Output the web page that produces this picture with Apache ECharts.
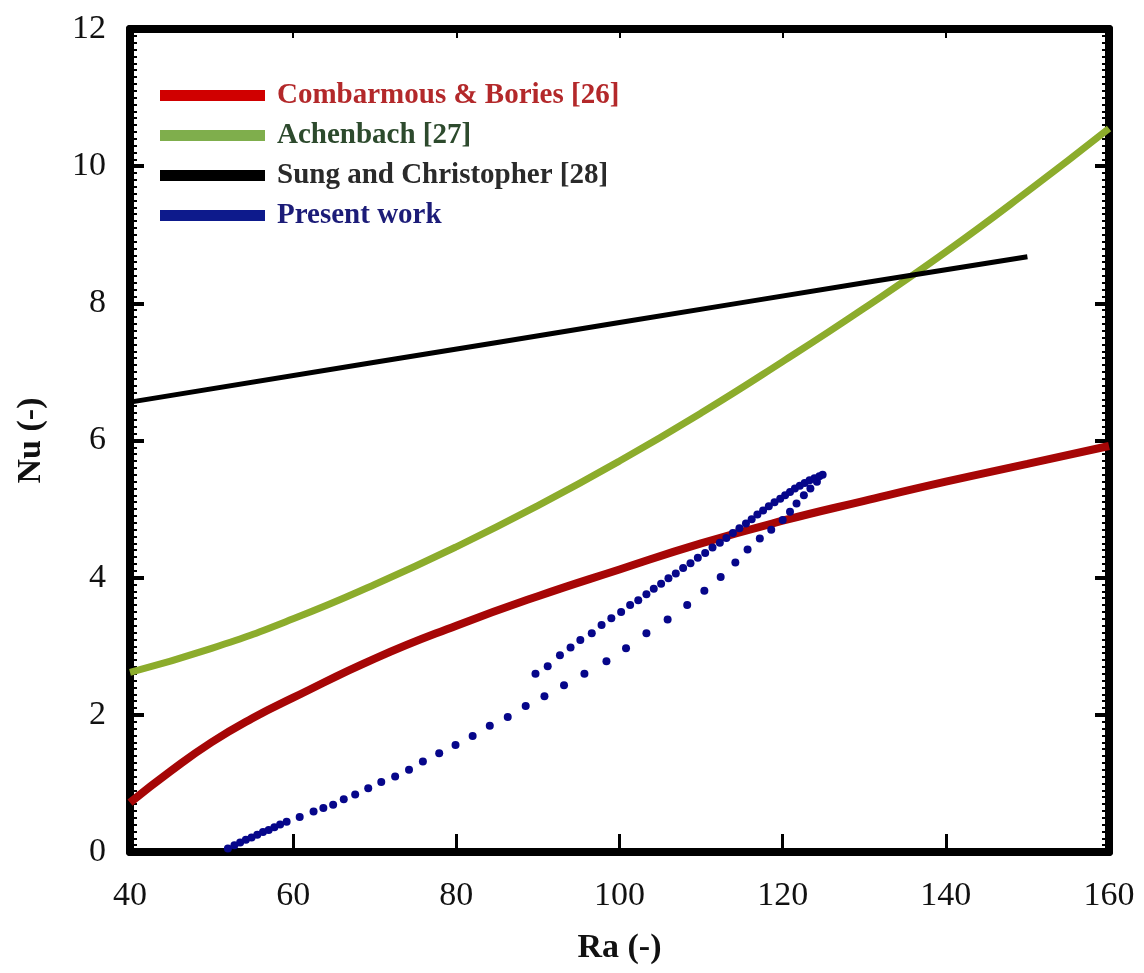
<!DOCTYPE html>
<html>
<head>
<meta charset="utf-8">
<script src="https://cdn.jsdelivr.net/npm/echarts@6/dist/echarts.min.js"></script>
<style>
  html, body { margin: 0; padding: 0; background: #fff; }
  #chart { width: 1144px; height: 973px; }
</style>
</head>
<body>
<div id="chart"></div>
<script>
// Ra (-) vs Nu (-) values
const combarmousData = [
  [40, 0.72], [45, 1.18], [50, 1.6], [55, 1.95], [60, 2.25], [70, 2.82], [80, 3.3],
  [90, 3.73], [100, 4.12], [110, 4.5], [120, 4.83], [130, 5.12], [140, 5.4],
  [150, 5.66], [160, 5.92]
]
const achenbachData = [
  [40, 2.62], [50, 2.97], [60, 3.4], [70, 3.9], [80, 4.45], [90, 5.05], [100, 5.7],
  [110, 6.4], [120, 7.15], [130, 7.93], [140, 8.75], [150, 9.63], [160, 10.55]
]
const sungData = [
  [40, 6.56], [70, 7.14], [100, 7.72], [130, 8.3], [150, 8.68]
]
const presentLower = [
  [52.0, 0.05], [52.8, 0.1], [53.5, 0.14], [54.2, 0.18], [54.9, 0.21], [55.6, 0.25],
  [56.3, 0.29], [57.0, 0.32], [57.7, 0.36], [58.4, 0.4], [59.2, 0.44], [60.8, 0.51],
  [62.5, 0.59], [63.7, 0.64], [64.9, 0.69], [66.2, 0.77], [67.6, 0.84], [69.2, 0.93],
  [70.8, 1.02], [72.5, 1.1], [74.2, 1.2], [75.9, 1.32], [77.9, 1.44], [79.9, 1.56],
  [82.0, 1.69], [84.1, 1.84], [86.3, 1.97], [88.5, 2.13], [90.8, 2.27], [93.2, 2.43],
  [95.7, 2.6], [98.4, 2.78], [100.8, 2.97], [103.3, 3.19], [105.9, 3.39], [108.3, 3.6],
  [110.4, 3.81], [112.4, 4.01], [114.2, 4.22], [115.7, 4.41], [117.2, 4.57], [118.6, 4.7],
  [120.0, 4.84], [120.9, 4.96], [121.7, 5.08], [122.6, 5.2], [123.4, 5.3], [124.2, 5.4]
]
const presentUpper = [
  [89.7, 2.6], [91.2, 2.71], [92.7, 2.87], [94.0, 2.98], [95.2, 3.09], [96.6, 3.19],
  [97.8, 3.31], [99.0, 3.41], [100.2, 3.5], [101.3, 3.6], [102.3, 3.67], [103.3, 3.76],
  [104.2, 3.84], [105.1, 3.91], [106.0, 3.99], [106.9, 4.06], [107.8, 4.14], [108.7, 4.21],
  [109.6, 4.29], [110.5, 4.36], [111.4, 4.44], [112.3, 4.51], [113.1, 4.58], [113.9, 4.65],
  [114.7, 4.72], [115.5, 4.79], [116.2, 4.85], [116.9, 4.92], [117.6, 4.98], [118.3, 5.04],
  [119.0, 5.1], [119.7, 5.15], [120.3, 5.2], [120.9, 5.25], [121.5, 5.3], [122.1, 5.34],
  [122.7, 5.38], [123.3, 5.42], [123.9, 5.45], [124.5, 5.48], [124.9, 5.5]
]
const seriesNames = ['Combarmous & Bories [26]', 'Achenbach [27]', 'Sung and Christopher [28]', 'Present work']

const chart = echarts.init(document.getElementById('chart'))
const serif = '"Liberation Serif", "DejaVu Serif", serif'

const option = {
  backgroundColor: '#fff',
  animation: false,
  grid: { left: 130, right: 35, top: 29, bottom: 121, containLabel: false, outerBoundsMode: 'none' },
  legend: {
    orient: 'vertical',
    left: 160,
    top: 81,
    padding: 0,
    itemWidth: 105,
    itemHeight: 11,
    itemGap: 11,
    icon: 'rect',
    textStyle: {
      fontFamily: serif,
      fontWeight: 'bold',
      fontSize: 29,
      lineHeight: 29,
      padding: [0, 0, 0, 7]
    },
    data: [
      { name: seriesNames[0], itemStyle: { color: '#d00000', opacity: 1 }, textStyle: { color: '#b3282a' } },
      { name: seriesNames[1], itemStyle: { color: '#7fae4c', opacity: 1 }, textStyle: { color: '#2d4a2d' } },
      { name: seriesNames[2], itemStyle: { color: '#000', opacity: 1 }, textStyle: { color: '#2a2a2a' } },
      { name: seriesNames[3], itemStyle: { color: '#0d1a8c', opacity: 1 }, textStyle: { color: '#1c1c78' } }
    ]
  },
  xAxis: [{
    type: 'value',
    min: 40, max: 160, interval: 20,
    name: 'Ra (-)',
    nameLocation: 'middle',
    nameGap: 79,
    nameTextStyle: { fontFamily: serif, fontWeight: 'bold', fontSize: 34, color: '#111' },
    axisLine: { show: true, onZero: false, lineStyle: { color: '#000', width: 8 } },
    axisTick: { show: true, inside: true, length: 18, lineStyle: { color: '#000', width: 3 } },
    axisLabel: { margin: 27, fontFamily: serif, fontSize: 34, color: '#111',
      showMinLabel: true, showMaxLabel: true },
    splitLine: { show: false }
  }, {
    type: 'value',
    position: 'top',
    min: 40, max: 160, interval: 20,
    axisLine: { show: true, onZero: false, lineStyle: { color: '#000', width: 8 } },
    axisTick: { show: true, inside: true, length: 9, lineStyle: { color: '#000', width: 2 } },
    axisLabel: { show: false },
    splitLine: { show: false }
  }],
  yAxis: [{
    type: 'value',
    min: 0, max: 12, interval: 2,
    name: 'Nu (-)',
    nameLocation: 'middle',
    nameRotate: 90,
    nameGap: 82,
    nameTextStyle: { fontFamily: serif, fontWeight: 'bold', fontSize: 34, color: '#111' },
    axisLine: { show: true, onZero: false, lineStyle: { color: '#000', width: 8 } },
    axisTick: { show: true, inside: true, length: 14, lineStyle: { color: '#000', width: 4 } },
    minorTick: { show: true, splitNumber: 20, length: 7, lineStyle: { color: '#000', width: 2 } },
    axisLabel: { margin: 24, fontFamily: serif, fontSize: 34, color: '#111' },
    splitLine: { show: false },
    minorSplitLine: { show: false }
  }, {
    type: 'value',
    position: 'right',
    min: 0, max: 12, interval: 2,
    axisLine: { show: true, onZero: false, lineStyle: { color: '#000', width: 8 } },
    axisTick: { show: true, inside: true, length: 14, lineStyle: { color: '#000', width: 4 } },
    minorTick: { show: true, splitNumber: 20, length: 7, lineStyle: { color: '#000', width: 2 } },
    axisLabel: { show: false },
    splitLine: { show: false },
    minorSplitLine: { show: false }
  }],
  series: [
    {
      name: seriesNames[0],
      type: 'line',
      smooth: true,
      showSymbol: false,
      color: '#a60606',
      lineStyle: { color: '#a60606', width: 8 },
      data: combarmousData,
      z: 3
    },
    {
      name: seriesNames[1],
      type: 'line',
      smooth: true,
      showSymbol: false,
      color: '#8cac2c',
      lineStyle: { color: '#8cac2c', width: 7 },
      data: achenbachData,
      z: 2
    },
    {
      name: seriesNames[2],
      type: 'line',
      smooth: true,
      showSymbol: false,
      color: '#000',
      lineStyle: { color: '#000', width: 5 },
      data: sungData,
      z: 2
    },
    {
      name: seriesNames[3],
      type: 'scatter',
      symbolSize: 8,
      color: '#06068a',
      itemStyle: { color: '#06068a', opacity: 1 },
      data: presentLower.concat(presentUpper),
      z: 4
    }
  ]
}

chart.setOption(option)
</script>
</body>
</html>
